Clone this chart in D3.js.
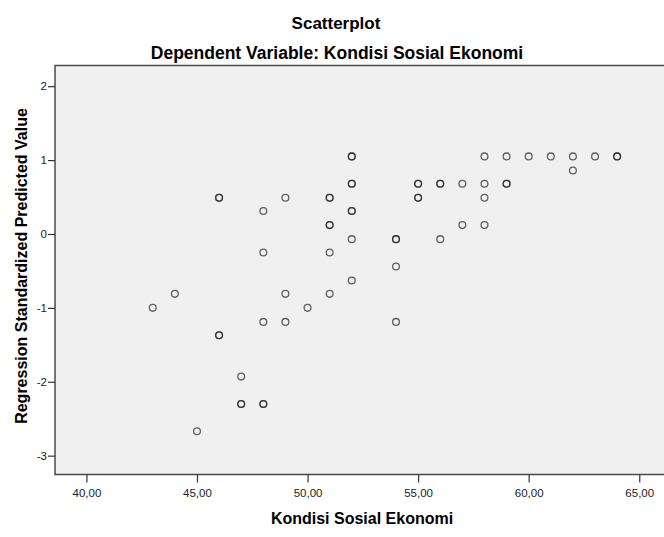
<!DOCTYPE html>
<html>
<head>
	<meta charset="utf-8">
	<title>Scatterplot</title>
	<style type="text/css">
        body{
            padding:0;
            margin:0;
            overflow: hidden;
            background:#fff;
        }
        text{ font-family: "Liberation Sans", Arial, sans-serif; }
	</style>
</head>
<body>

<div id='svg-chart'></div>

<script type="text/javascript" src='https://d3js.org/d3.v7.min.js'></script>
<script type="text/javascript">

    // x = Kondisi Sosial Ekonomi, y = Regression Standardized Predicted Value
    // (overlapping cases repeated, so they come out darker like in SPSS)
    var xValues = [43, 44, 45, 46, 46, 46, 46, 47, 47, 47, 48, 48, 48, 48, 48,
                   49, 49, 49, 50, 51, 51, 51, 51, 51, 51,
                   52, 52, 52, 52, 52, 52, 52, 52, 54, 54, 54, 54,
                   55, 55, 55, 55, 56, 56, 56, 57, 57, 58, 58, 58, 58,
                   59, 59, 59, 60, 61, 62, 62, 63, 64, 64];
    var yValues = [-1.00, -0.81, -2.67, 0.49, 0.49, -1.37, -1.37, -1.93, -2.30, -2.30, 0.31, -0.25, -1.19, -2.30, -2.30,
                   0.49, -0.81, -1.19, -1.00, 0.49, 0.49, 0.12, 0.12, -0.25, -0.81,
                   1.05, 1.05, 0.68, 0.68, 0.31, 0.31, -0.07, -0.63, -0.07, -0.07, -0.44, -1.19,
                   0.68, 0.68, 0.49, 0.49, 0.68, 0.68, -0.07, 0.68, 0.12, 1.05, 0.68, 0.49, 0.12,
                   1.05, 0.68, 0.68, 1.05, 1.05, 1.05, 0.86, 1.05, 1.05, 1.05];

    var xTicks = [40, 45, 50, 55, 60, 65];
    var yTicks = [-3, -2, -1, 0, 1, 2];

    var width = 664, height = 537;

    var data = xValues.map((d,i)=>({x:d, y:yValues[i]}));

/*-----------------------------------------------------------------------
    scales (right side of the plot runs off the picture)
-----------------------------------------------------------------------*/
    var xScale = d3.scaleLinear().domain([38.58, 66.39]).range([55, 670]);
    var yScale = d3.scaleLinear().domain([-3.255, 2.28]).range([474.5, 65.5]);

    var comma = d3.formatLocale({decimal:",", thousands:".", grouping:[3], currency:["",""], minus:"-"});

    var layout = d3.select('#svg-chart')
        .append('svg')
        .attr('width',width)
        .attr('height',height);

    // plot background
    layout.append('rect')
        .attr('x', xScale.range()[0]).attr('y', yScale.range()[1])
        .attr('width', xScale.range()[1]-xScale.range()[0])
        .attr('height', yScale.range()[0]-yScale.range()[1])
        .style('fill','#f0f0f0')
        .style('stroke','#4a4a4a')
        .style('stroke-width',1.5);

    // axes
    var xAxis = d3.axisBottom(xScale).tickValues(xTicks).tickSize(8).tickFormat(comma.format('.2f'));
    var yAxis = d3.axisLeft(yScale).tickValues(yTicks).tickSize(7).tickFormat(d=>String(d));

    var gx = layout.append('g').attr('transform','translate(0,'+yScale.range()[0]+')').call(xAxis);
    var gy = layout.append('g').attr('transform','translate('+xScale.range()[0]+',0)').call(yAxis);

    [gx, gy].forEach(g=>{
        g.select('.domain').remove();
        g.selectAll('.tick line').style('stroke','#333').style('stroke-width',1.2);
        g.selectAll('.tick text')
            .style('font-family','"Liberation Sans", Arial, sans-serif')
            .style('font-size','11.5px')
            .style('fill','#222');
    });
    gx.selectAll('.tick text').attr('dy','1.0em');
    gy.selectAll('.tick text').attr('x',-8);

    // points
    layout.append('g')
        .selectAll('circle')
        .data(data)
        .enter()
        .append('circle')
        .attr('cx', d=>xScale(d.x))
        .attr('cy', d=>yScale(d.y))
        .attr('r', 3.4)
        .style('fill','none')
        .style('stroke','#222')
        .style('stroke-opacity',0.7)
        .style('stroke-width',1.3);

    // titles
    layout.append('text')
        .attr('x',336).attr('y',29)
        .attr('text-anchor','middle')
        .style('font-size','17px').style('font-weight','bold')
        .text('Scatterplot');

    layout.append('text')
        .attr('x',337).attr('y',59)
        .attr('text-anchor','middle')
        .style('font-size','17.5px').style('font-weight','bold')
        .text('Dependent Variable: Kondisi Sosial Ekonomi');

    layout.append('text')
        .attr('x',362).attr('y',524)
        .attr('text-anchor','middle')
        .style('font-size','16px').style('font-weight','bold')
        .text('Kondisi Sosial Ekonomi');

    layout.append('text')
        .attr('transform','translate(27,266) rotate(-90)')
        .attr('text-anchor','middle')
        .style('font-size','16px').style('font-weight','bold')
        .text('Regression Standardized Predicted Value');

</script>

</body>
</html>
